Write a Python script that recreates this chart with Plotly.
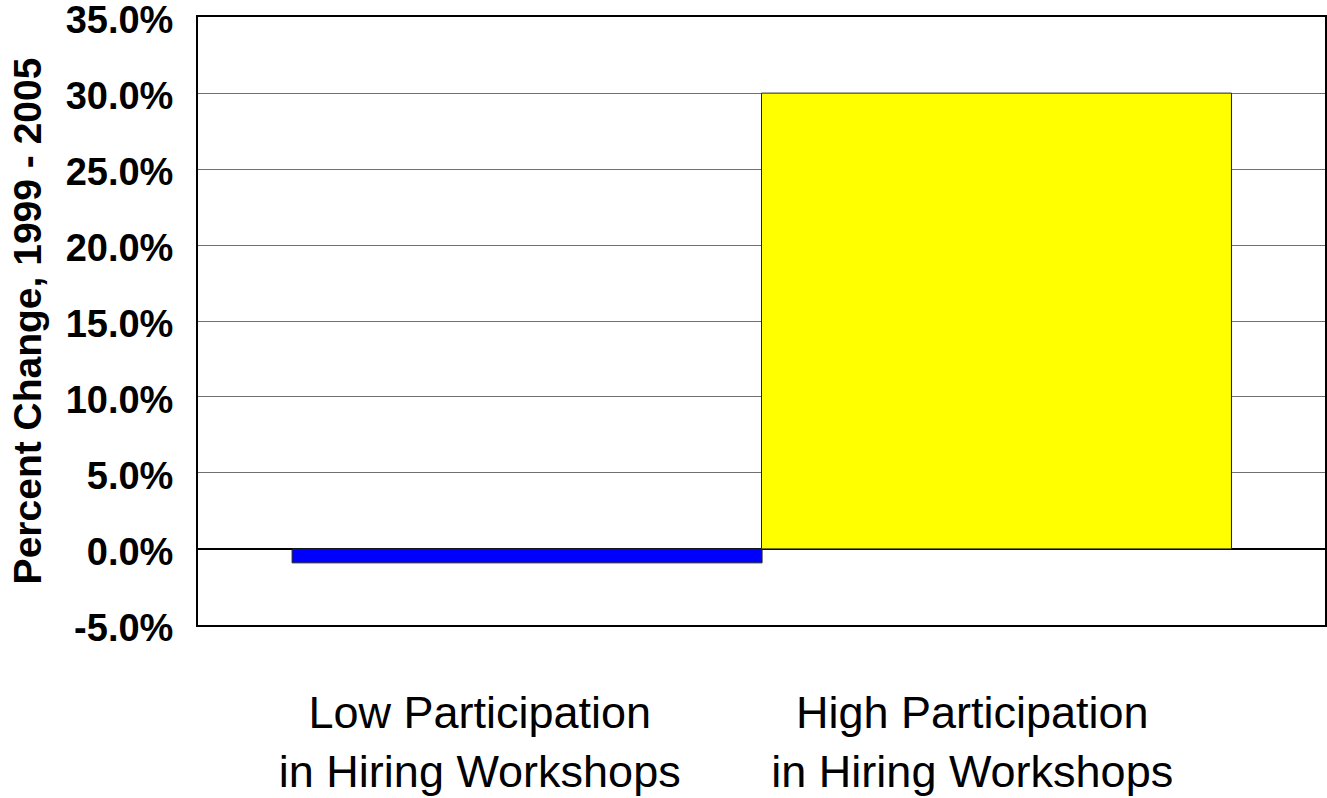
import plotly.graph_objects as go

categories = ["Low Participation<br>in Hiring Workshops", "High Participation<br>in Hiring Workshops"]
values = [-0.0092, 0.300]
colors = ["#0000FF", "#FFFF00"]
y_ticks = [-0.05, 0.0, 0.05, 0.10, 0.15, 0.20, 0.25, 0.30, 0.35]
y_tick_text = ["%.1f%%" % (v * 100) for v in y_ticks]

x_pos = list(range(len(categories)))
bar_offsets = [-0.333, -0.5]
label_pos = [0.0, 0.874]

fig = go.Figure()
fig.add_trace(go.Bar(
    x=x_pos, y=values, offset=bar_offsets, width=0.834,
    marker=dict(color=colors, line=dict(color="#222222", width=1)),
    showlegend=False,
))

fig.update_layout(
    width=1327, height=798,
    margin=dict(l=198, r=2, t=17, b=173),
    plot_bgcolor="white", paper_bgcolor="white",
    font=dict(family="Liberation Sans, Arial, sans-serif", color="black"),
)
fig.update_xaxes(
    range=[-0.5, 1.5], tickvals=label_pos, ticktext=categories,
    tickfont=dict(size=45), ticks="", ticklabelstandoff=47,
    ticklabeloverflow="allow", automargin=False,
    showgrid=False, zeroline=False,
    showline=True, linecolor="black", linewidth=2, mirror=True,
)
fig.update_yaxes(
    range=[-0.0501, 0.3501], tickvals=y_ticks, ticktext=y_tick_text,
    tickfont=dict(size=38, family="Liberation Sans, Arial, sans-serif", weight="bold"),
    ticks="", ticklabelstandoff=15, ticklabelshift=3,
    ticklabeloverflow="allow", automargin=False,
    showgrid=True, gridcolor="#707070", gridwidth=1,
    zeroline=True, zerolinecolor="black", zerolinewidth=2,
    showline=True, linecolor="black", linewidth=2, mirror=True,
    title=dict(text="<b>Percent Change, 1999 - 2005</b>", font=dict(size=39), standoff=12),
)

fig.write_html("out.html", config={"displayModeBar": False},
               post_script="document.body.style.margin='0';document.body.style.overflow='hidden';")
